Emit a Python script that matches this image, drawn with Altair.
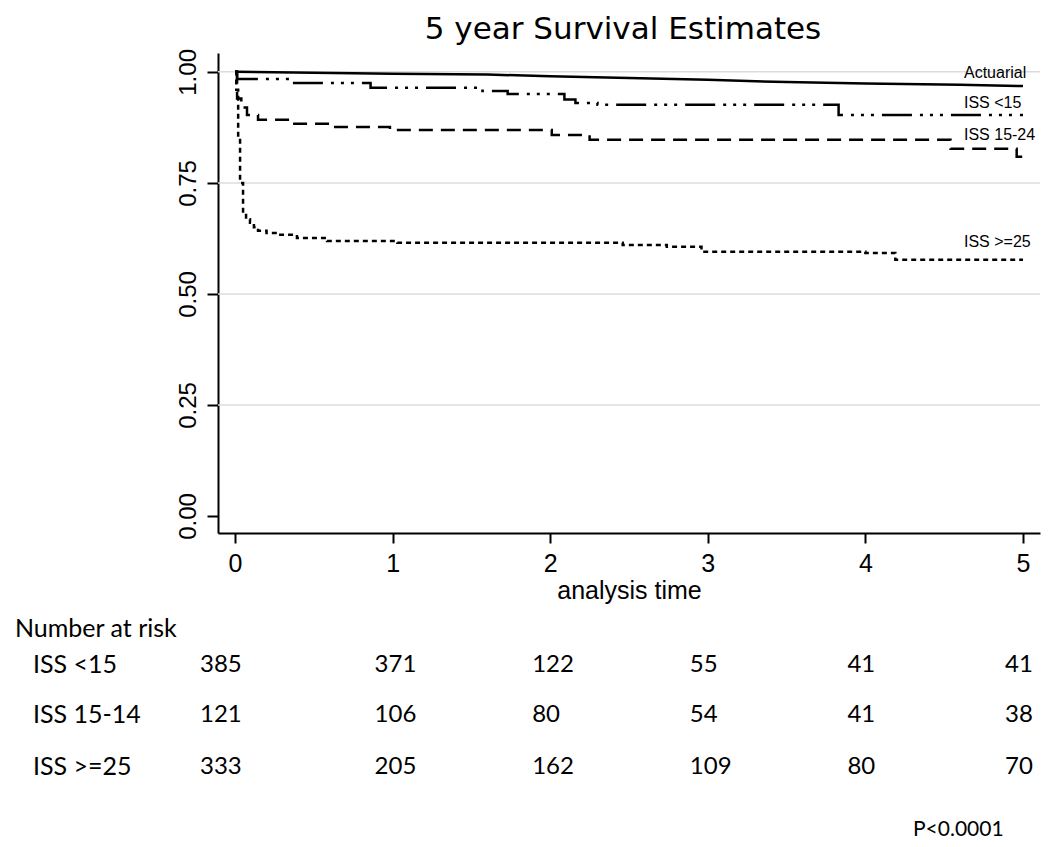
import altair as alt
import pandas as pd

# ---- data ----
chart_title = "5 year Survival Estimates"

actuarial_t = [0.0, 1.0, 1.6, 2.0, 3.0, 3.5, 4.0, 4.6, 5.0]
actuarial_s = [1.0, 0.996, 0.994, 0.990, 0.982, 0.977, 0.974, 0.971, 0.968]

iss15_t = [0.0, 0.013, 0.35, 0.86, 1.57, 1.73, 2.09, 2.16, 2.30, 3.83, 5.0]
iss15_s = [1.0, 0.984, 0.975, 0.964, 0.957, 0.950, 0.938, 0.930, 0.926, 0.903, 0.903]

iss1524_t = [0.0, 0.013, 0.04, 0.076, 0.146, 0.349, 0.622, 0.983, 2.01, 2.25, 4.54, 4.96, 5.0]
iss1524_s = [1.0, 0.94, 0.92, 0.903, 0.892, 0.883, 0.876, 0.869, 0.858, 0.847, 0.827, 0.809, 0.809]

iss25_t = [0.0, 0.008, 0.02, 0.032, 0.051, 0.07, 0.095, 0.12, 0.146, 0.2, 0.267,
           0.393, 0.584, 1.03, 2.46, 2.74, 2.96, 4.0, 4.19, 5.0]
iss25_s = [1.0, 0.96, 0.85, 0.75, 0.682, 0.668, 0.66, 0.65, 0.642, 0.637, 0.633,
           0.626, 0.619, 0.615, 0.61, 0.606, 0.595, 0.592, 0.577, 0.577]

km_series = ["ISS <15", "ISS 15-24", "ISS >=25"]
curve_labels = ["Actuarial", "ISS <15", "ISS 15-24", "ISS >=25"]

risk_times = [0, 1, 2, 3, 4, 5]
risk_groups = ["ISS <15", "ISS 15-14", "ISS >=25"]
risk_iss15 = [385, 371, 122, 55, 41, 41]
risk_iss1524 = [121, 106, 80, 54, 41, 38]
risk_iss25 = [333, 205, 162, 109, 80, 70]

x_ticks = [0, 1, 2, 3, 4, 5]
y_ticks = [0.0, 0.25, 0.5, 0.75, 1.0]
grid_values = [0.25, 0.5, 0.75, 1.0]

# ---- tables ----
act_df = pd.DataFrame({"t": actuarial_t, "s": actuarial_s})
km_df = pd.concat([
    pd.DataFrame({"t": iss15_t, "s": iss15_s, "series": km_series[0]}),
    pd.DataFrame({"t": iss1524_t, "s": iss1524_s, "series": km_series[1]}),
    pd.DataFrame({"t": iss25_t, "s": iss25_s, "series": km_series[2]}),
], ignore_index=True)
grid_df = pd.DataFrame({"s": grid_values})
risk_rows = [risk_iss15, risk_iss1524, risk_iss25]
risk_df = pd.concat([
    pd.DataFrame({"t": risk_times, "n": vals, "row": i})
    for i, vals in enumerate(risk_rows)
], ignore_index=True)

AX_FONT = "Liberation Sans"
TITLE_FONT = "DejaVu Sans"
TAB_FONT = "Lato"

xscale = alt.Scale(domain=[-0.108, 5.108], nice=False, zero=False)
yscale = alt.Scale(domain=[-0.0385, 1.0425], nice=False, zero=False)

xaxis = alt.Axis(values=x_ticks, format="d", title="analysis time", grid=False,
                 domainColor="black", domainWidth=2, tickColor="black", tickWidth=2,
                 tickSize=10, labelFont=AX_FONT, labelFontSize=25, labelColor="black",
                 labelPadding=8, titleFont=AX_FONT, titleFontSize=25,
                 titleFontWeight="normal", titleColor="black", titleY=65,
                 titleBaseline="alphabetic")
yaxis = alt.Axis(values=y_ticks, format=".2f", title=None, grid=False,
                 domainColor="black", domainWidth=2, tickColor="black", tickWidth=2,
                 tickSize=11, labelFont=AX_FONT, labelFontSize=24, labelColor="black",
                 labelAngle=270, labelAlign="center", labelBaseline="alphabetic",
                 labelPadding=12)

X = alt.X("t:Q", scale=xscale, axis=xaxis)
Y = alt.Y("s:Q", scale=yscale, axis=yaxis)

grid = alt.Chart(grid_df).mark_rule(color="#dcdcdc", strokeWidth=1.5).encode(y=Y)

act_line = alt.Chart(act_df).mark_line(color="black", strokeWidth=2.5).encode(x=X, y=Y)

km_lines = alt.Chart(km_df).mark_line(
    color="black", strokeWidth=2.5, interpolate="step-after"
).encode(
    x=X, y=Y,
    strokeDash=alt.StrokeDash(
        "series:N",
        scale=alt.Scale(domain=km_series,
                        range=[[30, 8, 3, 7, 3, 7, 3, 8], [14, 8], [5, 4]]),
        legend=None,
    ),
)

layers = [grid, act_line, km_lines]

# chart title as text above the plot
layers.append(
    alt.Chart(pd.DataFrame({"lab": [chart_title]})).mark_text(
        align="center", baseline="alphabetic", font=TITLE_FONT, fontSize=31, color="black"
    ).encode(x=alt.value(405), y=alt.value(-14), text="lab:N")
)

# curve labels at the right
label_y = [20, 50, 82, 189]
for lab, py in zip(curve_labels, label_y):
    layers.append(
        alt.Chart(pd.DataFrame({"lab": [lab]})).mark_text(
            align="left", baseline="middle", font=AX_FONT, fontSize=16, color="black"
        ).encode(x=alt.value(746), y=alt.value(py), text="lab:N")
    )

# number at risk table
layers.append(
    alt.Chart(pd.DataFrame({"lab": ["Number at risk"]})).mark_text(
        align="left", baseline="middle", font=TAB_FONT, fontSize=25, color="black"
    ).encode(x=alt.value(-203), y=alt.value(576), text="lab:N")
)
row_y = [612, 662, 714]
for i, (grp, py) in enumerate(zip(risk_groups, row_y)):
    layers.append(
        alt.Chart(pd.DataFrame({"lab": [grp]})).mark_text(
            align="left", baseline="middle", font=TAB_FONT, fontSize=25, color="black"
        ).encode(x=alt.value(-185), y=alt.value(py), text="lab:N")
    )
    base = alt.Chart(risk_df).transform_filter(alt.datum.row == i)
    layers.append(
        base.transform_filter(alt.datum.t == 0).mark_text(
            align="left", baseline="middle", font=TAB_FONT, fontSize=24, color="black", dx=-35
        ).encode(x=X, y=alt.value(py), text="n:N")
    )
    layers.append(
        base.transform_filter(alt.datum.t > 0).mark_text(
            align="left", baseline="middle", font=TAB_FONT, fontSize=24, color="black", dx=-18
        ).encode(x=X, y=alt.value(py), text="n:N")
    )

layers.append(
    alt.Chart(pd.DataFrame({"lab": ["P<0.0001"]})).mark_text(
        align="left", baseline="middle", font=TAB_FONT, fontSize=21, color="black"
    ).encode(x=alt.value(695), y=alt.value(777), text="lab:N")
)

chart = alt.layer(*layers).properties(
    width=822,
    height=480,
    autosize=alt.AutoSizeParams(type="none"),
    padding={"left": 210, "top": 45, "right": 2, "bottom": 310},
).configure(background="white").configure_view(stroke=None)

chart.save("out.html", embed_options={"renderer": "svg", "actions": False})
